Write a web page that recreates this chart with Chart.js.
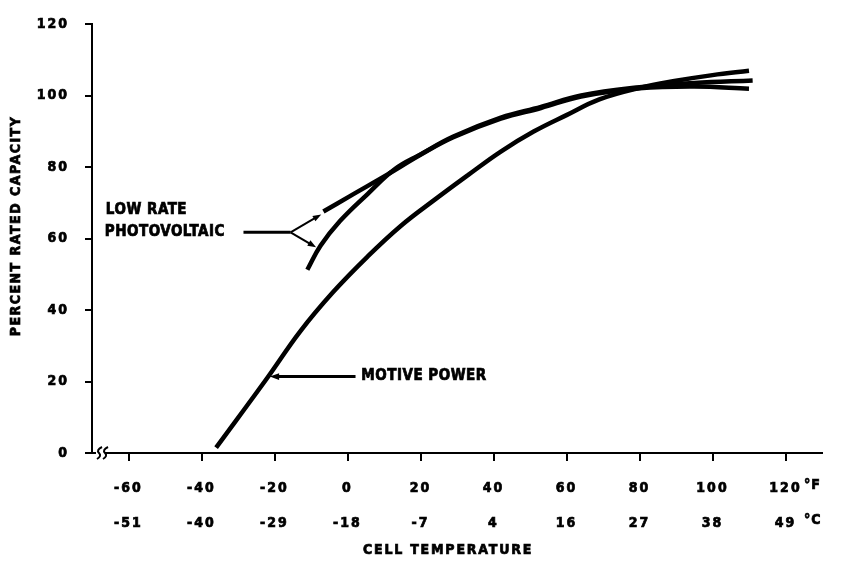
<!DOCTYPE html>
<html>
<head>
<meta charset="utf-8">
<script src="https://cdn.jsdelivr.net/npm/chart.js@4.4.0/dist/chart.umd.min.js"></script>
<style>
  html, body { margin: 0; padding: 0; background: #fff; }
  #wrap { width: 841px; height: 564px; }
</style>
</head>
<body>
<div id="wrap"><canvas id="chart"></canvas></div>
<script>
// tick labels
const fTicks = [-60, -40, -20, 0, 20, 40, 60, 80, 100, 120];
const cTicks = ['-51', '-40', '-29', '-18', '-7', '4', '16', '27', '38', '49'];
const yTicks = [0, 20, 40, 60, 80, 100, 120];

// curves (deg F, percent rated capacity)
const motiveTemp = [-36, -22, -13, -4, 5.5, 14.5, 24, 33, 42, 51, 60, 69, 80, 90, 100, 110];
const motiveCap  = [1.5, 21, 34, 45, 55, 63.5, 71, 77.8, 84.4, 90, 94.6, 99, 102.2, 104.2, 105.8, 107];

const lowRateTemp = [-6.6, 0.8, 11, 20, 29, 42, 53, 64, 80, 95, 110];
const lowRateCap  = [67.6, 72, 78, 83.5, 88.4, 93.6, 96.6, 99.8, 102.1, 102.6, 102];

const pvTemp = [-11, -7.4, -2, 5.5, 13, 20, 29, 42, 53, 64, 80, 95, 111];
const pvCap  = [51.3, 58, 65, 72.5, 79.5, 83.6, 88.6, 93.9, 96.9, 100.1, 102.4, 103.6, 104.3];

const FONT = '"DejaVu Sans Condensed", "DejaVu Sans", sans-serif';
const ink = '#000';

function pts(xs, ys) { return xs.map((x, i) => ({ x, y: ys[i] })); }

function arrow(ctx, x1, y1, x2, y2, head, width) {
    const a = Math.atan2(y2 - y1, x2 - x1);
    ctx.lineWidth = width;
    ctx.beginPath();
    ctx.moveTo(x1, y1);
    ctx.lineTo(x2 - Math.cos(a) * head * 0.6, y2 - Math.sin(a) * head * 0.6);
    ctx.stroke();
    ctx.beginPath();
    ctx.moveTo(x2, y2);
    ctx.lineTo(x2 - head * Math.cos(a - 0.35), y2 - head * Math.sin(a - 0.35));
    ctx.lineTo(x2 - head * Math.cos(a + 0.35), y2 - head * Math.sin(a + 0.35));
    ctx.closePath();
    ctx.fill();
}

// heavy text: fill plus a thin outline
function heavyText(ctx, s, x, y) {
    ctx.lineWidth = 0.7;
    ctx.fillText(s, x, y);
    ctx.strokeText(s, x, y);
}

// letter spacing for the tick numbers
const spacing = {
    id: 'spacing',
    beforeInit(chart) { chart.ctx.letterSpacing = '2px'; },
    beforeDraw(chart) { chart.ctx.letterSpacing = '2px'; }
};

// labels, arrows, axis titles, axis break
const notes = {
    id: 'notes',
    afterDraw(chart) {
        const { ctx, scales: { x, y }, chartArea: ca } = chart;
        const px = v => x.getPixelForValue(v);
        const py = v => y.getPixelForValue(v);
        ctx.save();
        ctx.fillStyle = ink;
        ctx.strokeStyle = ink;
        ctx.letterSpacing = '0.5px';
        ctx.font = 'bold 15px ' + FONT;
        ctx.textBaseline = 'middle';

        // Low rate / photovoltaic
        ctx.textAlign = 'left';
        heavyText(ctx, 'LOW RATE', px(-66.2), py(68.1));
        heavyText(ctx, 'PHOTOVOLTAIC', px(-66.5), py(61.8));
        ctx.lineWidth = 3;
        ctx.beginPath();
        ctx.moveTo(px(-28.5), py(61.8));
        ctx.lineTo(px(-15.6), py(61.8));
        ctx.stroke();
        arrow(ctx, px(-15.6), py(61.8), px(-7.2), py(66.8), 9, 2);
        arrow(ctx, px(-15.6), py(61.8), px(-8.6), py(57.6), 9, 2);

        // Motive power
        heavyText(ctx, 'MOTIVE POWER', px(3.8), py(21.4));
        arrow(ctx, px(2.2), py(21.4), px(-21.3), py(21.4), 10, 3);

        // axis titles
        ctx.textAlign = 'center';
        ctx.letterSpacing = '1.8px';
        ctx.font = 'bold 14px ' + FONT;
        heavyText(ctx, 'CELL TEMPERATURE', 448, 550);
        ctx.save();
        ctx.translate(16, 226);
        ctx.rotate(-Math.PI / 2);
        ctx.letterSpacing = '1.5px';
        heavyText(ctx, 'PERCENT RATED CAPACITY', 0, 0);
        ctx.restore();

        // units
        ctx.textAlign = 'left';
        ctx.letterSpacing = '1px';
        ctx.font = 'bold 14px ' + FONT;
        heavyText(ctx, '°F', 804, 485);
        heavyText(ctx, '°C', 804, 520);

        // break on the temperature axis
        const by = ca.bottom;
        ctx.fillStyle = '#fff';
        ctx.fillRect(ca.left + 4, by - 4, 12, 8);
        ctx.lineWidth = 2;
        [ca.left + 7, ca.left + 13].forEach(bx => {
            ctx.beginPath();
            ctx.moveTo(bx + 3, by - 6);
            ctx.quadraticCurveTo(bx - 3, by - 3, bx, by);
            ctx.quadraticCurveTo(bx + 3, by + 3, bx - 2, by + 6);
            ctx.stroke();
        });
        ctx.beginPath();
        ctx.moveTo(ca.left + 13, by);
        ctx.lineTo(ca.left + 20, by);
        ctx.stroke();
        ctx.restore();
    }
};

const line = (data) => ({
    data,
    showLine: true,
    borderColor: ink,
    borderWidth: 4.5,
    pointRadius: 0,
    tension: 0.4,
    borderCapStyle: 'butt',
    fill: false
});

new Chart(document.getElementById('chart'), {
    type: 'scatter',
    data: {
        datasets: [
            line(pts(motiveTemp, motiveCap)),
            line(pts(lowRateTemp, lowRateCap)),
            line(pts(pvTemp, pvCap))
        ]
    },
    options: {
        responsive: true,
        maintainAspectRatio: false,
        animation: false,
        layout: { padding: { left: 0, right: 19, top: 16, bottom: 0 } },
        plugins: {
            legend: { display: false },
            tooltip: { enabled: false }
        },
        scales: {
            x: {
                type: 'linear',
                min: -70,
                max: 130,
                afterBuildTicks: s => { s.ticks = fTicks.map(v => ({ value: v })); },
                afterFit: s => { s.height = 111; },
                border: { display: true, color: ink, width: 2 },
                grid: { drawOnChartArea: false, color: ink, lineWidth: 2, tickLength: 8 },
                ticks: {
                    color: ink,
                    textStrokeColor: ink,
                    textStrokeWidth: 0.7,
                    padding: 10,
                    maxRotation: 0,
                    autoSkip: false,
                    font: { family: FONT, size: 14, weight: 'bold', lineHeight: 2.5 },
                    callback: (v) => {
                        const i = fTicks.indexOf(v);
                        return i < 0 ? '' : [String(fTicks[i]), cTicks[i]];
                    }
                }
            },
            y: {
                type: 'linear',
                min: 0,
                max: 120,
                afterBuildTicks: s => { s.ticks = yTicks.map(v => ({ value: v })); },
                afterFit: s => { s.width = 92; },
                border: { display: true, color: ink, width: 2 },
                grid: { drawOnChartArea: false, color: ink, lineWidth: 2, tickLength: 7 },
                ticks: {
                    color: ink,
                    textStrokeColor: ink,
                    textStrokeWidth: 0.7,
                    padding: 16,
                    font: { family: FONT, size: 14, weight: 'bold' }
                }
            }
        }
    },
    plugins: [spacing, notes]
});
</script>
</body>
</html>
